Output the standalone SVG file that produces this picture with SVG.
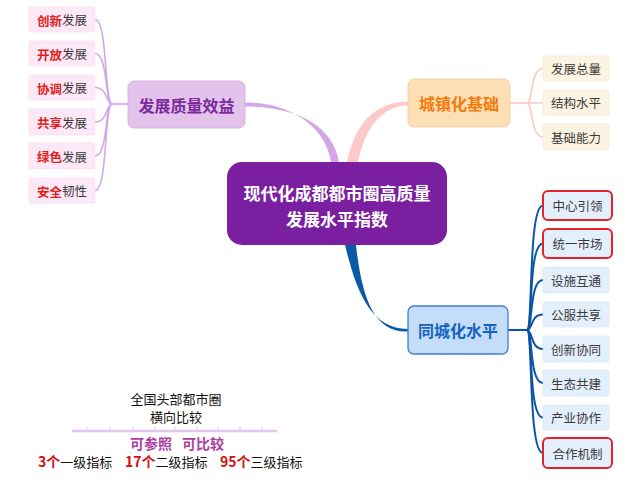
<svg xmlns="http://www.w3.org/2000/svg" width="640" height="489" viewBox="0 0 640 489">
<style>
text{font-family:"Noto Sans CJK SC","Microsoft YaHei",sans-serif;}
.leafP{fill:#fce8f7;stroke:#f6dcef;stroke-width:0.6}
.leafO{fill:#fdf3e2;stroke:#f7e8d2;stroke-width:0.6}
.leafB{fill:#e4effc;stroke:#d5e4f6;stroke-width:0.6}
.leafR{fill:#e4effc;stroke:#e0242a;stroke-width:2}
.lt{font-size:12.5px;fill:#3a3a3a;text-anchor:middle;dominant-baseline:central}
.red{fill:#e3201c;font-weight:bold}
.bt{font-size:16px;font-weight:bold;text-anchor:middle;dominant-baseline:central}
.cP{fill:none;stroke:#d4a6e8;stroke-width:1.6}
.cO{fill:none;stroke:#f9c9c3;stroke-width:1.6}
.cB{fill:none;stroke:#0b54a5;stroke-width:2}
</style>
<rect width="640" height="489" fill="#ffffff"/>
<g id="connectors">
  <path d="M245,102.5 C292,102.5 326,128 331,162 L339,162 C333,125 296,106.5 245,106.5 Z" fill="#d4a6e8"/>
  <path d="M408,101.5 C372,101.5 354,128 347,162 L358,162 C364,132 380,105.5 408,105.5 Z" fill="#fcc9c9"/>
  <path d="M345,245 C356,290 370,329 408,329 L408,331.5 C375,333 362,300 356,245 Z" fill="#0b5aa8"/>
  <path class="cP" d="M128,104 L112,104"/>
  <path class="cP" d="M112,104 C104,104 108,19.5 95,19.5"/>
  <path class="cP" d="M112,104 C105,104 108,53.5 95,53.5"/>
  <path class="cP" d="M112,104 C106,104 108,87.5 95,87.5"/>
  <path class="cP" d="M112,104 C106,104 108,122 95,122"/>
  <path class="cP" d="M112,104 C105,104 108,156 95,156"/>
  <path class="cP" d="M112,104 C104,104 108,190.5 95,190.5"/>
  <path class="cO" d="M510,103 L527,103"/>
  <path class="cO" d="M527,103 C533,103 530,68.5 543,68.5"/>
  <path class="cO" d="M527,103 L543,103"/>
  <path class="cO" d="M527,103 C533,103 530,137 543,137"/>
  <path class="cB" d="M508,330 L527,330"/>
  <path class="cB" d="M527,330 C533,330 528,205.5 543,205.5"/>
  <path class="cB" d="M527,330 C533,330 528,243.5 543,243.5"/>
  <path class="cB" d="M527,330 C533,330 529,280 543,280"/>
  <path class="cB" d="M527,330 C533,330 530,314.5 543,314.5"/>
  <path class="cB" d="M527,330 C533,330 530,349 543,349"/>
  <path class="cB" d="M527,330 C533,330 529,383 543,383"/>
  <path class="cB" d="M527,330 C533,330 528,417.5 543,417.5"/>
  <path class="cB" d="M527,330 C533,330 528,453 543,453"/>
</g>
<g id="center">
  <rect x="227" y="162" width="220" height="83" rx="15" fill="#7a1fa0"/>
  <text x="337" y="192" font-size="17" font-weight="bold" fill="#ffffff" text-anchor="middle" dominant-baseline="central">现代化成都都市圈高质量</text>
  <text x="337" y="218" font-size="17" font-weight="bold" fill="#ffffff" text-anchor="middle" dominant-baseline="central">发展水平指数</text>
</g>
<g id="b1">
  <rect x="128" y="81" width="117" height="47" rx="6" fill="#e3c3eb" stroke="#d9b5e3" stroke-width="1"/>
  <text class="bt" x="186.5" y="104.5" fill="#7a2a9e">发展质量效益</text>
</g>
<g id="b2">
  <rect x="408" y="79" width="102" height="48" rx="6" fill="#fddfb6" stroke="#f8d3a8" stroke-width="1"/>
  <text class="bt" x="459" y="103" fill="#f57c0a">城镇化基础</text>
</g>
<g id="b3">
  <rect x="408" y="306" width="100" height="48" rx="6" fill="#c4ddf9" stroke="#3d7fd6" stroke-width="1.3"/>
  <text class="bt" x="458" y="330" fill="#1563bf">同城化水平</text>
</g>
<g id="p1"><rect class="leafP" x="29" y="7" width="66" height="25" rx="2"/><text class="lt" x="62" y="19.5"><tspan class="red">创新</tspan>发展</text></g>
<g id="p2"><rect class="leafP" x="29" y="41" width="66" height="25" rx="2"/><text class="lt" x="62" y="53.5"><tspan class="red">开放</tspan>发展</text></g>
<g id="p3"><rect class="leafP" x="29" y="75" width="66" height="25" rx="2"/><text class="lt" x="62" y="87.5"><tspan class="red">协调</tspan>发展</text></g>
<g id="p4"><rect class="leafP" x="29" y="109" width="66" height="26" rx="2"/><text class="lt" x="62" y="122"><tspan class="red">共享</tspan>发展</text></g>
<g id="p5"><rect class="leafP" x="29" y="143" width="66" height="26" rx="2"/><text class="lt" x="62" y="156"><tspan class="red">绿色</tspan>发展</text></g>
<g id="p6"><rect class="leafP" x="29" y="178" width="66" height="25" rx="2"/><text class="lt" x="62" y="190.5"><tspan class="red">安全</tspan>韧性</text></g>
<g id="o1"><rect class="leafO" x="543" y="56" width="66" height="25" rx="2"/><text class="lt" x="576" y="68.5">发展总量</text></g>
<g id="o2"><rect class="leafO" x="543" y="90" width="66" height="25" rx="2"/><text class="lt" x="576" y="102.5">结构水平</text></g>
<g id="o3"><rect class="leafO" x="543" y="124" width="66" height="26" rx="2"/><text class="lt" x="576" y="137">基础能力</text></g>
<g id="u1"><rect class="leafR" x="543" y="191" width="69" height="29" rx="5"/><text class="lt" x="577.5" y="205.5">中心引领</text></g>
<g id="u2"><rect class="leafR" x="543" y="229" width="69" height="29" rx="5"/><text class="lt" x="577.5" y="243.5">统一市场</text></g>
<g id="u3"><rect class="leafB" x="543" y="267" width="66" height="26" rx="2"/><text class="lt" x="576" y="280">设施互通</text></g>
<g id="u4"><rect class="leafB" x="543" y="302" width="66" height="25" rx="2"/><text class="lt" x="576" y="314.5">公服共享</text></g>
<g id="u5"><rect class="leafB" x="543" y="336" width="66" height="26" rx="2"/><text class="lt" x="576" y="349">创新协同</text></g>
<g id="u6"><rect class="leafB" x="543" y="370" width="66" height="26" rx="2"/><text class="lt" x="576" y="383">生态共建</text></g>
<g id="u7"><rect class="leafB" x="543" y="405" width="66" height="25" rx="2"/><text class="lt" x="576" y="417.5">产业协作</text></g>
<g id="u8"><rect class="leafR" x="543" y="438" width="69" height="30" rx="5"/><text class="lt" x="577.5" y="453">合作机制</text></g>
<g id="legend">
  <text x="176" y="398" font-size="13" fill="#111" text-anchor="middle" dominant-baseline="central">全国头部都市圈</text>
  <text x="176" y="416" font-size="13" fill="#111" text-anchor="middle" dominant-baseline="central">横向比较</text>
  <line x1="72" y1="431" x2="277" y2="431" stroke="#e2c6f0" stroke-width="2.5"/>
  <path d="M87,431v-4M110,431v-4M133,431v-4M155,431v-4M175,431v-4M197,431v-4M218,431v-4M240,431v-4M262,431v-4" stroke="#d9bde8" stroke-width="1"/>
  <text x="130" y="443" font-size="14" font-weight="bold" fill="#ad3fa2" dominant-baseline="central">可参照</text>
  <text x="182" y="443" font-size="14" font-weight="bold" fill="#ad3fa2" dominant-baseline="central">可比较</text>
  <text x="38" y="461" font-size="13" fill="#111" dominant-baseline="central"><tspan fill="#d01010" font-weight="bold" font-size="14">3个</tspan>一级指标</text>
  <text x="125" y="461" font-size="13" fill="#111" dominant-baseline="central"><tspan fill="#d01010" font-weight="bold" font-size="14">17个</tspan>二级指标</text>
  <text x="220" y="461" font-size="13" fill="#111" dominant-baseline="central"><tspan fill="#d01010" font-weight="bold" font-size="14">95个</tspan>三级指标</text>
</g>
</svg>
